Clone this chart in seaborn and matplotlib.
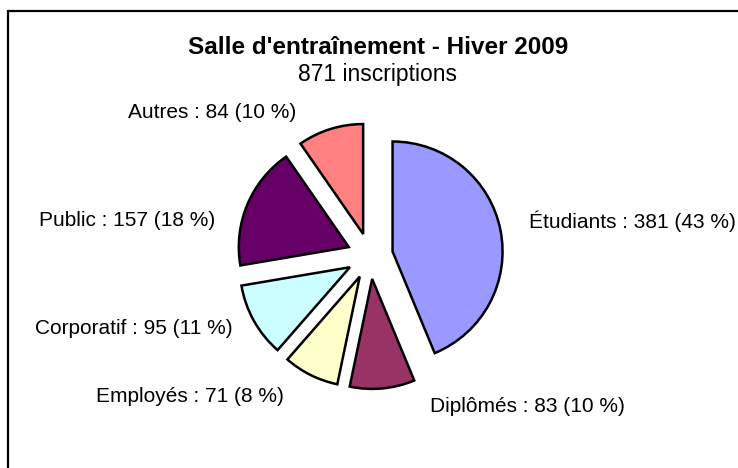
import matplotlib
matplotlib.use("Agg")
from matplotlib import pyplot as plt
from matplotlib.patches import Rectangle
import seaborn as sns

categories = ["Étudiants", "Diplômés", "Employés", "Corporatif", "Public", "Autres"]
counts = [381, 83, 71, 95, 157, 84]
percents = [43, 10, 8, 11, 18, 10]
colors = ["#9999FF", "#993366", "#FFFFCC", "#CCFFFF", "#660066", "#FF8080"]

# label centres in pixels (x, y from top)
label_pos = [(632, 221), (527, 407), (190, 397), (134, 329), (127, 221), (212, 113)]

sns.set_theme(style="white")
plt.rcParams["font.family"] = ["Liberation Sans", "DejaVu Sans"]
plt.rcParams["text.color"] = "black"

W, H = 738, 468
fig = plt.figure(figsize=(W / 100, H / 100), dpi=100)
ax = fig.add_axes([0, 0, 1, 1])

ax.pie(
    counts,
    colors=colors,
    startangle=90,
    counterclock=False,
    radius=110,
    center=(370, H - 256),
    explode=[23] * len(counts),
    wedgeprops={"edgecolor": "black", "linewidth": 1.8},
)
ax.set_xlim(0, W)
ax.set_ylim(0, H)
ax.set_aspect("equal")
ax.axis("off")

for name, c, p, (x, y) in zip(categories, counts, percents, label_pos):
    ax.text(x, H - y, f"{name} : {c} ({p} %)", ha="center", va="center",
            fontsize=15, color="black")

total = sum(counts)
ax.text(378, H - 47, "Salle d'entraînement - Hiver 2009", ha="center", va="center",
        fontsize=17.5, fontweight="bold", color="black")
ax.text(378, H - 74, f"{total} inscriptions", ha="center", va="center",
        fontsize=16.5, color="black")

ax.add_patch(Rectangle((8, -20), 800, H - 11 + 20, fill=False, edgecolor="black",
                       linewidth=1.6, clip_on=False))

fig.savefig("out.png", dpi=100)
plt.close(fig)
